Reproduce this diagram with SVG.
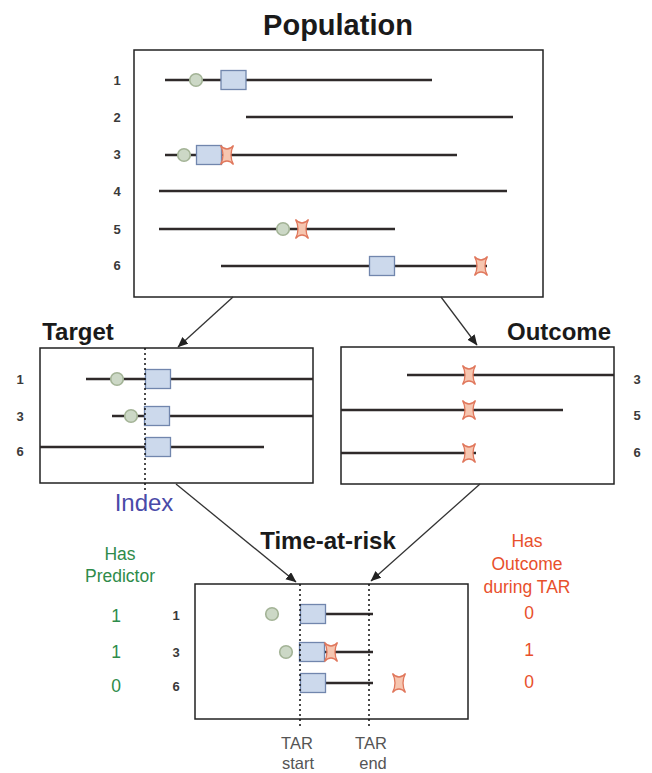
<svg xmlns="http://www.w3.org/2000/svg" width="652" height="773" viewBox="0 0 652 773">
<style>
text{font-family:"Liberation Sans",Arial,sans-serif}
.t{font-weight:bold;fill:#1a1a1a;text-anchor:middle}
.n{font-weight:bold;font-size:13px;fill:#3a3a3a;text-anchor:middle}
.box{fill:#fff;stroke:#222;stroke-width:1.5}
.l{stroke:#2f2a2a;stroke-width:2.7;fill:none}
.d{stroke:#111;stroke-width:1.5;stroke-dasharray:2 3;fill:none}
.a{stroke:#333;stroke-width:1.3;fill:none;marker-end:url(#ah)}
.c{fill:#ccd8c6;stroke:#a3b396;stroke-width:1.6}
.r{fill:#ccd9ec;stroke:#7186ad;stroke-width:1.3}
.x{fill:#f6c6b0;stroke:#e0775c;stroke-width:1.3}
.g{fill:#2e8b4a;font-size:17.500px;text-anchor:middle}
.o{fill:#e8502c;font-size:17.500px;text-anchor:middle}
.k{fill:#555;font-size:16.500px;text-anchor:middle}
</style>
<defs>
<marker id="ah" markerWidth="12" markerHeight="10" refX="10" refY="4.500" orient="auto" markerUnits="userSpaceOnUse"><path d="M0 0L10.500 4.500L0 9Z" fill="#222"/></marker>
<circle id="cc" class="c" r="6.300"/>
<rect id="rr" class="r" x="-12.500" y="-9.500" width="25" height="19"/>
<path id="xx" class="x" d="M-6.500-9.500Q-3.500-6 0-6Q3.500-6 6.500-9.500Q4-5 4 0Q4 5 6.500 9.500Q3.500 6 0 6Q-3.500 6 -6.500 9.500Q-4 5 -4 0Q-4-5 -6.500-9.500Z"/>
</defs>
<text class="t" x="338" y="35" font-size="29">Population</text>
<text class="t" x="78" y="340" font-size="24">Target</text>
<text class="t" x="559" y="340" font-size="24">Outcome</text>
<text class="t" x="328" y="549" font-size="24">Time-at-risk</text>
<g id="population">
<rect class="box" x="134" y="50" width="409" height="247"/>
<text class="n" x="117" y="85">1</text><text class="n" x="117" y="122">2</text><text class="n" x="117" y="159">3</text><text class="n" x="117" y="196">4</text><text class="n" x="117" y="234">5</text><text class="n" x="117" y="270">6</text>
<path class="l" d="M165 80H432M246 117H513M165 155H457M159 191H507M159 229H395M221 266H487"/>
<use href="#cc" x="196" y="80"/><use href="#rr" x="233.500" y="80"/>
<use href="#cc" x="184" y="155"/><use href="#rr" x="209" y="155"/><use href="#xx" x="227" y="155"/>
<use href="#cc" x="283" y="229"/><use href="#xx" x="302" y="229"/>
<use href="#rr" x="382" y="266"/><use href="#xx" x="481" y="266"/>
</g>
<g id="target">
<rect class="box" x="40" y="348" width="273" height="135"/>
<text class="n" x="20" y="384">1</text><text class="n" x="20" y="421">3</text><text class="n" x="20" y="456">6</text>
<path class="l" d="M86 379H313M112 416H313M40 447H264"/>
<use href="#cc" x="117" y="379"/><use href="#rr" x="158" y="379"/>
<use href="#cc" x="131" y="416"/><use href="#rr" x="157" y="416"/>
<use href="#rr" x="158" y="447"/>
<path class="d" d="M145 348V490"/>
<text x="144" y="511" font-size="24" fill="#4a4aa8" text-anchor="middle">Index</text>
</g>
<g id="outcome">
<rect class="box" x="341" y="347" width="273" height="137"/>
<text class="n" x="637" y="384">3</text><text class="n" x="637" y="420">5</text><text class="n" x="637" y="457">6</text>
<path class="l" d="M407 375H614M341 410H563M341 453H476"/>
<use href="#xx" x="469" y="375"/><use href="#xx" x="469" y="410"/><use href="#xx" x="469" y="453"/>
</g>
<g id="tar">
<rect class="box" x="195" y="584" width="273" height="135"/>
<text class="n" x="176" y="620">1</text><text class="n" x="176" y="657">3</text><text class="n" x="176" y="691">6</text>
<path class="l" d="M300 614H373M300 652H373M300 683H373"/>
<use href="#cc" x="272" y="614"/><use href="#rr" x="313" y="614"/>
<use href="#cc" x="286" y="652"/><use href="#rr" x="312" y="652"/><use href="#xx" x="331" y="652"/>
<use href="#rr" x="313" y="683"/><use href="#xx" x="399" y="683"/>
<path class="d" d="M300 584V727M369 584V727"/>
</g>
<g id="connectors">
<path class="a" d="M233 297L178 347"/>
<path class="a" d="M441 297L477 345"/>
<path class="a" d="M176 484L296 582"/>
<path class="a" d="M480 484L371 581"/>
</g>
<g id="labels">
<text class="g" x="120" y="560">Has</text><text class="g" x="120" y="582">Predictor</text>
<text class="g" x="116" y="622" font-size="19">1</text><text class="g" x="116" y="658" font-size="19">1</text><text class="g" x="116" y="692" font-size="19">0</text>
<text class="o" x="527" y="547">Has</text><text class="o" x="527" y="570">Outcome</text><text class="o" x="527" y="593">during TAR</text>
<text class="o" x="529" y="619" font-size="19">0</text><text class="o" x="529" y="656" font-size="19">1</text><text class="o" x="529" y="688" font-size="19">0</text>
<text class="k" x="297" y="749">TAR</text><text class="k" x="298" y="769">start</text>
<text class="k" x="371" y="749">TAR</text><text class="k" x="373" y="769">end</text>
</g>
</svg>
